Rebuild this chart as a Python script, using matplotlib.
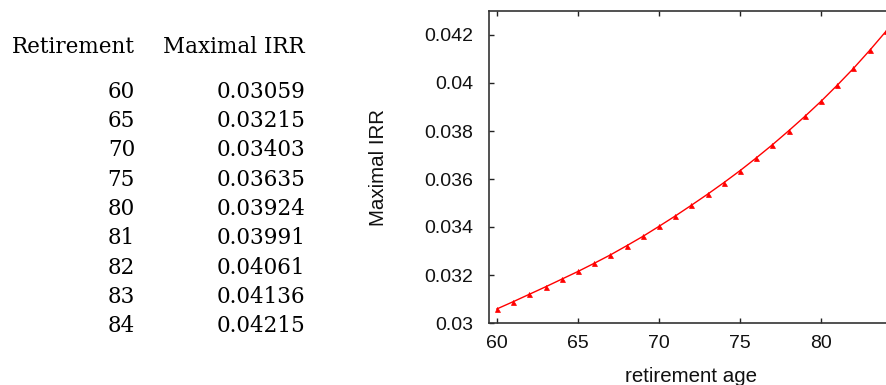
import matplotlib
matplotlib.use("Agg")
import matplotlib.pyplot as plt

# table on the left
table_ages = [60, 65, 70, 75, 80, 81, 82, 83, 84]
table_irr = ["0.03059", "0.03215", "0.03403", "0.03635", "0.03924",
             "0.03991", "0.04061", "0.04136", "0.04215"]

# curve on the right (one point per year)
ages = list(range(60, 85))
irr = [0.03059, 0.03089, 0.03120, 0.03151, 0.03183, 0.03215, 0.03249, 0.03284,
       0.03322, 0.03361, 0.03403, 0.03446, 0.03491, 0.03537, 0.03585, 0.03635,
       0.03688, 0.03743, 0.03801, 0.03861, 0.03924, 0.03991, 0.04061, 0.04136,
       0.04215]

y_ticks = [0.03, 0.032, 0.034, 0.036, 0.038, 0.04, 0.042]
y_tick_labels = ["0.03", "0.032", "0.034", "0.036", "0.038", "0.04", "0.042"]
x_ticks = [60, 65, 70, 75, 80]

W, H = 886, 385
fig = plt.figure(figsize=(W / 100, H / 100), dpi=100)

serif = dict(family="DejaVu Serif", fontsize=15.5, color="black")
fig.text(135 / W, 1 - 47 / H, "Retirement", ha="right", va="center", **serif)
fig.text(305 / W, 1 - 47 / H, "Maximal IRR", ha="right", va="center", **serif)
row_y0, row_step = 92, 29.25
for i, (a, v) in enumerate(zip(table_ages, table_irr)):
    y = 1 - (row_y0 + i * row_step) / H
    fig.text(135 / W, y, str(a), ha="right", va="center", **serif)
    fig.text(305 / W, y, v, ha="right", va="center", **serif)

# axes: right edge falls outside the picture, as in the reference
left, top, bottom = 489, 11, 323
x0, x1 = 59.5, 85.0
px_per_unit = 16.2
right = left + (x1 - x0) * px_per_unit
ax = fig.add_axes([left / W, 1 - bottom / H, (right - left) / W, (bottom - top) / H])

ax.plot(ages, irr, color="red", lw=1.0, marker="^", markersize=3.6,
        markeredgewidth=0.5, clip_on=False)

ax.set_xlim(x0, x1)
ax.set_ylim(0.03, 0.043)
ax.set_xticks(x_ticks)
ax.set_yticks(y_ticks)
ax.set_yticklabels(y_tick_labels)

sans = "Liberation Sans"
ax.tick_params(direction="in", length=3.5, width=1, top=True, right=True,
               labelsize=14, color="#222222", labelcolor="#111111")
ax.tick_params(axis="y", pad=11.5)
ax.tick_params(axis="x", pad=9)
for lab in ax.get_xticklabels() + ax.get_yticklabels():
    lab.set_family(sans)
for s in ax.spines.values():
    s.set_linewidth(1.2)
    s.set_color("#333333")

fig.text(378.5 / W, 1 - 167 / H, "Maximal IRR", rotation=90, ha="center",
         va="center", family=sans, fontsize=14.8, color="#111111")
fig.text(691 / W, 1 - 377 / H, "retirement age", ha="center", va="center",
         family=sans, fontsize=14.8, color="#111111")

fig.savefig("out.png", dpi=100)
